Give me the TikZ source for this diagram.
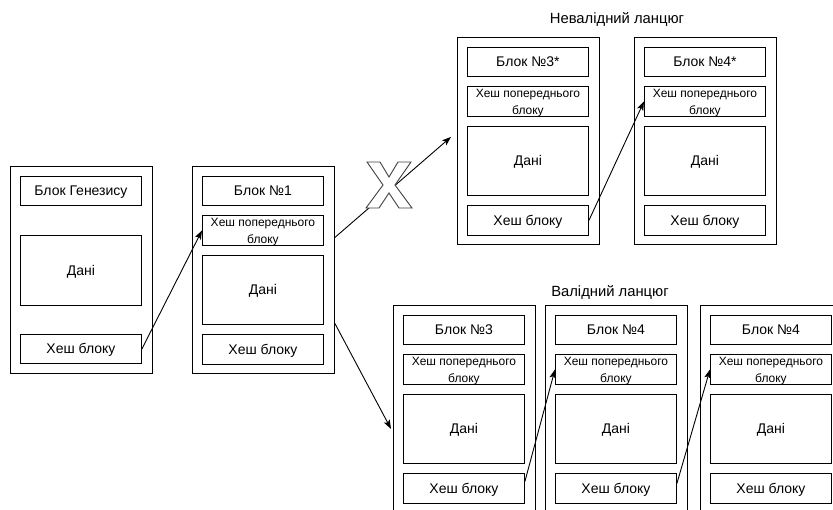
\documentclass[tikz,border=0pt]{standalone}
\usepackage{fontspec}
\setmainfont{Liberation Sans}
\usetikzlibrary{arrows.meta,calc}

\tikzset{
  x=1pt, y=-1pt,
  frame/.style={draw=black, line width=0.9pt},
  outerbox/.style={frame, minimum width=142pt, minimum height=207pt,
    inner sep=0pt, anchor=north west},
  innerbox/.style={frame, minimum width=121pt, inner sep=0pt, anchor=north west,
    font=\fontsize{14}{16}\selectfont, text height=10pt, text depth=0pt},
  titlebox/.style={innerbox, minimum height=29pt},
  prevbox/.style={innerbox, minimum height=30pt},
  prevtext/.style={font=\fontsize{12}{17}\selectfont, align=center, inner sep=0pt},
  databox/.style={innerbox, minimum height=69pt},
  hashbox/.style={innerbox, minimum height=30pt},
  chaintitle/.style={font=\fontsize{14.8}{17}\selectfont, inner sep=0pt},
  link/.style={draw=black, line width=0.9pt, -{Stealth[length=9pt,width=6.5pt,inset=2pt]}},
  crossmark/.style={draw=black!75, line width=0.9pt, fill=white, line join=miter}
}

% one block of a chain: name, x, y of top-left corner, title
\newcommand\stdblock[4]{%
  \node[outerbox] (#1) at (#2,#3) {};
  \node[titlebox] (#1t) at ($(#1.north west)+(10,10)$) {#4};
  \node[prevbox, label={[prevtext, yshift=-2pt]center:Хеш попереднього\\блоку}]
    (#1p) at ($(#1.north west)+(10,49)$) {};
  \node[databox] (#1d) at ($(#1.north west)+(10,89)$) {Дані};
  \node[hashbox] (#1h) at ($(#1.north west)+(10,168)$) {Хеш блоку};
}

\begin{document}
\begin{tikzpicture}
  \useasboundingbox (0,0) rectangle (833,510);
  \clip (0,0) rectangle (833,510);

  % genesis block
  \node[outerbox] (g) at (10,166) {};
  \node[titlebox] (gt) at ($(g.north west)+(10,10)$) {Блок Генезису};
  \node[databox, minimum height=70pt] (gd) at ($(g.north west)+(10,69)$) {Дані};
  \node[hashbox, minimum height=29pt] (gh) at ($(g.north west)+(10,168)$) {Хеш блоку};

  % common block
  \stdblock{b1}{192}{166}{Блок №1}

  % invalid chain
  \node[chaintitle] (inv) at (617,19) {Невалідний ланцюг};
  \stdblock{s3}{457}{37}{Блок №3*}
  \stdblock{s4}{634}{37}{Блок №4*}

  % valid chain
  \node[chaintitle] (val) at (610,292) {Валідний ланцюг};
  \stdblock{v3}{393}{305}{Блок №3}
  \stdblock{v4}{545}{305}{Блок №4}
  \stdblock{v5}{700}{305}{Блок №4}

  % hash links
  \draw[link] (gh.east) -- (b1p.west);
  \draw[link] ([yshift=32.5pt]b1.east) -- ([yshift=4pt,xshift=-6pt]s3.west);
  \draw[link] ([yshift=-53.5pt]b1.east) -- ([yshift=-20pt,xshift=-2pt]v3.west);
  \draw[link] (s3h.east) -- (s4p.west);
  \draw[link] ([yshift=7pt]v3h.east) -- (v4p.west);
  \draw[link] ([yshift=5pt]v4h.east) -- (v5p.west);

  % rejection mark over the fork
  \coordinate (xc) at (389,185);
  \draw[crossmark] ($(xc)+(-22,-23)$) -- ++(13,0) -- ($(xc)+(0,-8)$)
    -- ($(xc)+(9,-23)$) -- ++(13,0) -- ($(xc)+(6,0)$)
    -- ($(xc)+(23,23)$) -- ++(-13,0) -- ($(xc)+(0,8)$)
    -- ($(xc)+(-10,23)$) -- ++(-13,0) -- ($(xc)+(-6,0)$) -- cycle;
\end{tikzpicture}
\end{document}
